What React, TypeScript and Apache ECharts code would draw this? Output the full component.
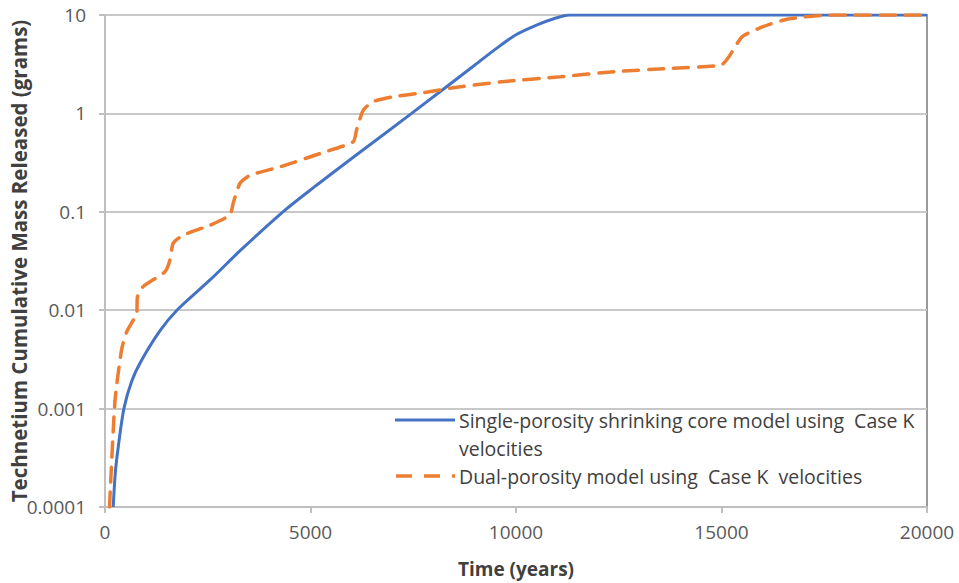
import React, { useEffect, useRef } from "react";
import * as echarts from "echarts";

const singleTime = [200, 250, 320, 460, 650, 890, 1340, 1750, 2555, 3300, 4330, 5100, 6000, 7460, 9000, 9500, 10000, 10500, 10900, 11300, 20000];
const singleMass = [0.0001, 0.00022, 0.0004, 0.001, 0.0019, 0.0031, 0.0062, 0.01, 0.0203, 0.0407, 0.1, 0.18, 0.348, 1, 3.1, 4.5, 6.3, 7.9, 9.1, 10, 10];

const dualTime = [110, 243, 405, 527, 770, 790, 930, 1460, 1580, 1660, 1905, 2555, 3040, 3120, 3285, 3530, 4300, 5300, 6040, 6120, 6285, 6530, 7015, 7745, 8390, 9660, 11090, 12420, 13750, 14990, 15180, 15500, 16010, 16520, 17030, 17600, 20000];
const dualMass = [0.0001, 0.0012, 0.004, 0.006, 0.0093, 0.0137, 0.0174, 0.0246, 0.0323, 0.048, 0.058, 0.073, 0.093, 0.123, 0.195, 0.235, 0.29, 0.4, 0.515, 0.678, 1.08, 1.32, 1.48, 1.62, 1.8, 2.1, 2.36, 2.66, 2.87, 3.1, 3.76, 6.0, 7.6, 8.9, 9.6, 10, 10];

const seriesNames = [
  "Single-porosity shrinking core model using  Case K",
  "velocities",
  "Dual-porosity model using  Case K  velocities",
];
const xTitle = "Time (years)";
const yTitle = "Technetium Cumulative Mass Released (grams)";

const BLUE = "#4472C4";
const ORANGE = "#ED7D31";
const FONT = "Open Sans";

export default function App() {
  const ref = useRef<HTMLDivElement>(null);
  useEffect(() => {
    if (!ref.current) return;
    const chart = echarts.init(ref.current, null, { renderer: "svg" });
    const zip = (a: number[], b: number[]) => a.map((v, i) => [v, b[i]]);
    const legendFont = `19.5px '${FONT}'`;
    chart.setOption({
      animation: false,
      textStyle: { fontFamily: FONT },
      grid: {
        left: 105,
        right: 32,
        top: 15,
        bottom: 76,
        containLabel: false,
        outerBoundsMode: "none",
        show: true,
        borderColor: "#9a9a9a",
        borderWidth: 2,
      },
      xAxis: {
        type: "value",
        min: 0,
        max: 20000,
        interval: 5000,
        name: xTitle,
        nameLocation: "middle",
        nameGap: 52,
        nameMoveOverlap: false,
        nameTextStyle: { fontFamily: FONT, fontWeight: "bold", fontSize: 19, color: "#404040" },
        axisLine: { show: true, lineStyle: { color: "#bfbfbf", width: 2 } },
        axisTick: { show: true, length: 6, lineStyle: { color: "#bfbfbf", width: 2 } },
        axisLabel: {
          fontFamily: FONT,
          fontSize: 19,
          color: "#595959",
          margin: 15,
          formatter: (v: number) => String(v),
        },
        splitLine: { show: false },
      },
      yAxis: {
        type: "log",
        logBase: 10,
        min: 0.0001,
        max: 10,
        name: yTitle,
        nameLocation: "middle",
        nameGap: 76,
        nameMoveOverlap: false,
        nameTextStyle: { fontFamily: FONT, fontWeight: "bold", fontSize: 20.5, color: "#404040" },
        axisLine: { show: true, lineStyle: { color: "#bfbfbf", width: 2 } },
        axisTick: { show: true, length: 6, lineStyle: { color: "#bfbfbf", width: 2 } },
        axisLabel: {
          fontFamily: FONT,
          fontSize: 19,
          color: "#595959",
          margin: 19,
          formatter: (v: number) => String(parseFloat(v.toPrecision(1))),
        },
        splitLine: { show: true, lineStyle: { color: "#c8c8c8", width: 2 } },
        minorTick: { show: false },
      },
      series: [
        {
          name: seriesNames[0],
          type: "line",
          data: zip(singleTime, singleMass),
          showSymbol: false,
          smooth: 0.3,
          lineStyle: { color: BLUE, width: 3 },
          z: 2,
        },
        {
          name: seriesNames[2],
          type: "line",
          data: zip(dualTime, dualMass),
          showSymbol: false,
          smooth: 0.2,
          lineStyle: { color: ORANGE, width: 3.5, type: [15, 10], cap: "round" },
          z: 3,
        },
      ],
      graphic: [
        {
          type: "line",
          shape: { x1: 395, y1: 420, x2: 455, y2: 420 },
          style: { stroke: BLUE, lineWidth: 3 },
        },
        {
          type: "line",
          shape: { x1: 396, y1: 476, x2: 455, y2: 476 },
          style: { stroke: ORANGE, lineWidth: 3.5, lineDash: [16, 12] },
        },
        {
          type: "text",
          x: 459,
          y: 420,
          style: { text: seriesNames[0], font: legendFont, fill: "#404040", verticalAlign: "middle" },
        },
        {
          type: "text",
          x: 459,
          y: 448,
          style: { text: seriesNames[1], font: legendFont, fill: "#404040", verticalAlign: "middle" },
        },
        {
          type: "text",
          x: 459,
          y: 476,
          style: { text: seriesNames[2], font: legendFont, fill: "#404040", verticalAlign: "middle" },
        },
      ],
    });
    return () => chart.dispose();
  }, []);
  return <div ref={ref} style={{ width: 959, height: 583, position: "absolute", left: 0, top: 0 }} />;
}
